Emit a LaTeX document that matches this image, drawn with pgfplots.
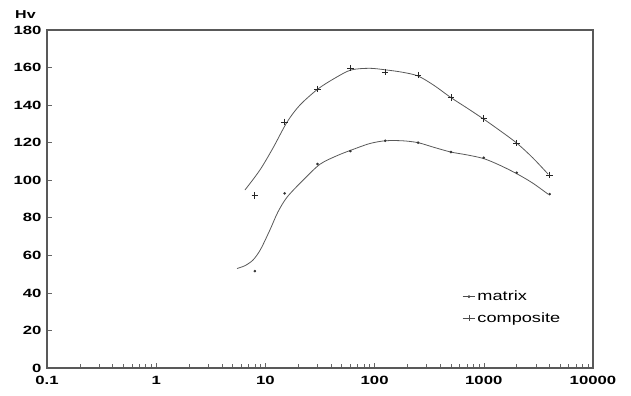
\documentclass[border=0pt]{standalone}
\usepackage{fontspec}
\setmainfont{Liberation Sans}
\newfontfamily\tickfont[FakeStretch=1.4]{Liberation Sans}
\newfontfamily\legfont[FakeStretch=1.35]{Liberation Sans}
\usepackage{pgfplots}
\pgfplotsset{compat=1.18}
\begin{document}
\begin{tikzpicture}
\begin{axis}[
  scale only axis, width=546bp, height=338bp,
  xmode=log, xmin=0.1, xmax=10000, ymin=0, ymax=180,
  ytick={0,20,...,180},
  xtick={0.1,1,10,100,1000,10000},
  xticklabels={0.1,1,10,100,1000,10000},
  minor xtick={0.2,0.3,0.4,0.5,0.6,0.7,0.8,0.9,2,3,4,5,6,7,8,9,20,30,40,50,60,70,80,90,200,300,400,500,600,700,800,900,2000,3000,4000,5000,6000,7000,8000,9000},
  xtick pos=bottom, ytick pos=left, tick align=inside,
  major tick length=5bp, minor tick length=4bp,
  every tick/.style={black!60, line width=0.6pt},
  axis line style={black!65, line width=1.1pt},
  /pgf/number format/assume math mode=true,
  tick label style={font=\tickfont\bfseries\fontsize{12}{13}\selectfont},
  yticklabel style={xshift=-2bp},
  xticklabel style={yshift=-5bp},
  legend style={at={(0.755,0.24)}, anchor=north west, draw=none, fill=none,
    font=\legfont\fontsize{13.5}{14}\selectfont, row sep=6bp,
    /tikz/every even column/.append style={column sep=3bp}},
  legend cell align=left,
  clip=false,
]
% fitted curves
\addplot[smooth, tension=0.5, black!65, line width=0.8pt, forget plot] coordinates {
(5.5,53)(6.5,54.5)(7.7,57.5)(9,63)(11,73.5)(13,83)(15.8,91)(22.1,100)(31.6,108.5)(45,113)(60.8,116)(90,119.5)(125,121)(180,121)(250,120)(350,117.5)(500,115)(700,113.5)(1000,111.5)(1400,108)(2000,103.5)(2800,98.5)(3873,92.6)};
\addplot[smooth, tension=0.5, black!65, line width=0.8pt, forget plot] coordinates {
(6.5,94.8)(8.9,105.4)(11.7,117)(15.8,131)(20.7,140)(30.3,148.6)(43.4,154.4)(60.8,158.7)(90,159.6)(125,158.8)(180,157.5)(250,155.5)(350,150.5)(500,144)(700,138.5)(1000,132.5)(1400,126.5)(2000,119.8)(2800,112)(3873,103.3)};
% data points
\addplot[only marks, mark=*, mark size=1.1pt, black!80,
  legend image code/.code={\draw[sharp plot, black!70, line width=0.6pt, mark repeat=2, mark phase=2] plot coordinates {(0cm,0cm)(0.22cm,0cm)(0.44cm,0cm)};}]
  coordinates {(8,51.6)(15,93)(30,108.6)(60,115.5)(125,121)(250,120)(500,115)(1000,112)(2000,104)(4000,92.6)};
\addlegendentry{matrix}
\addplot[only marks, mark=+, mark size=3.3pt, black!85, line width=0.8pt,
  legend image code/.code={\draw[sharp plot, black!70, line width=0.6pt, mark repeat=2, mark phase=2] plot coordinates {(0cm,0cm)(0.22cm,0cm)(0.44cm,0cm)};}]
  coordinates {(8,92)(15,131)(30,148.6)(60,159.7)(125,157.6)(250,156)(500,144)(1000,133)(2000,119.8)(4000,102.8)};
\addlegendentry{composite}
\node[anchor=south west, font=\tickfont\bfseries\fontsize{11.5}{12}\selectfont, inner sep=0pt] at ([xshift=-32bp,yshift=11bp]rel axis cs:0,1) {Hv};
\end{axis}
\path (current axis.south west) +(-47bp,-28bp);
\path (current axis.north east) +(38bp,30bp);
\end{tikzpicture}
\end{document}
